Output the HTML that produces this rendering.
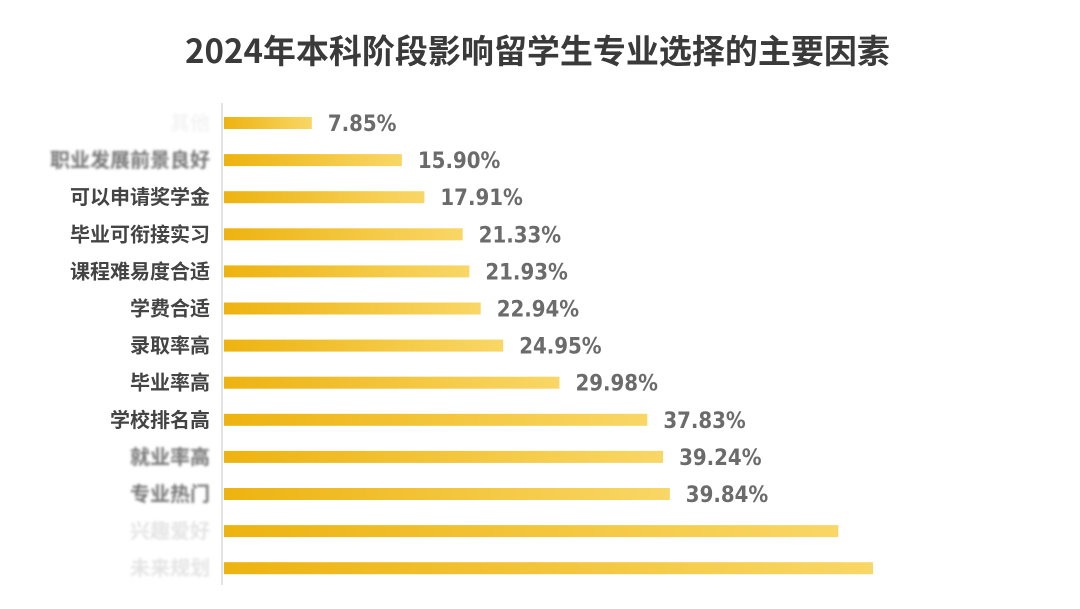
<!DOCTYPE html>
<html><head><meta charset="utf-8"><style>
body{margin:0;width:1080px;height:609px;background:#fff;overflow:hidden;font-family:"Liberation Sans","Noto Sans CJK SC",sans-serif}
#title{position:absolute;left:0;width:1075px;top:26px;text-align:center;font-size:33px;font-weight:bold;color:#3a3a3a;font-family:"Noto Sans CJK SC",sans-serif;line-height:46px}
svg{position:absolute;left:0;top:0}
</style></head><body>
<div id="title">2024年本科阶段影响留学生专业选择的主要因素</div>
<svg id="chart" width="1080" height="609">
<defs><linearGradient id="g" x1="0" x2="1" y1="0" y2="0"><stop offset="0" stop-color="#EDB310"/><stop offset="1" stop-color="#F9D766"/></linearGradient>
<filter id="blur"><feGaussianBlur stdDeviation="1.3"/></filter></defs>
<line x1="222" y1="103" x2="222" y2="585" stroke="#dcdcdc" stroke-width="1.5"/>
</svg>
<script>
const categories=["其他","职业发展前景良好","可以申请奖学金","毕业可衔接实习","课程难易度合适","学费合适","录取率高","毕业率高","学校排名高","就业率高","专业热门","兴趣爱好","未来规划"];
const values=[7.85,15.90,17.91,21.33,21.93,22.94,24.95,29.98,37.83,39.24,39.84,54.9,58.0];
const showValue=[true,true,true,true,true,true,true,true,true,true,true,false,false];
const blurred=[true,true,false,false,false,false,false,false,false,true,true,true,true];
const svg=document.getElementById('chart');const NS='http://www.w3.org/2000/svg';
const x0=224,scale=11.19,y0=123,step=37.1;
const xs=v=>x0+v*scale, ys=i=>y0+i*step;
categories.forEach((c,i)=>{
 const y=ys(i);
 const r=document.createElementNS(NS,'rect');
 r.setAttribute('x',x0);r.setAttribute('y',y-6);r.setAttribute('width',xs(values[i])-x0);r.setAttribute('height',12);r.setAttribute('fill','url(#g)');
 
 
 svg.appendChild(r);
 const t=document.createElementNS(NS,'text');
 t.setAttribute('x',210);t.setAttribute('y',y+7);t.setAttribute('text-anchor','end');t.setAttribute('font-size','20');t.setAttribute('font-weight','bold');
 t.setAttribute('font-family','"Noto Sans CJK SC",sans-serif');
 t.setAttribute('fill',blurred[i]?(i==0?'#f4f4f4':(i>=11?'#e4e4e4':'#777')):'#444');
 if(blurred[i])t.setAttribute('filter','url(#blur)');
 t.textContent=c;
 
 
 svg.appendChild(t);
 if(showValue[i]){
  const v=document.createElementNS(NS,'text');
  v.setAttribute('x',xs(values[i])+16);v.setAttribute('y',y+8);v.setAttribute('font-size','22');v.setAttribute('font-weight','bold');v.setAttribute('fill','#6b6b6b');
  v.setAttribute('font-family','"DejaVu Sans Condensed","DejaVu Sans",sans-serif');
  v.textContent=values[i].toFixed(2)+'%';
  
  
  svg.appendChild(v);
 }
});
</script>
</body></html>
